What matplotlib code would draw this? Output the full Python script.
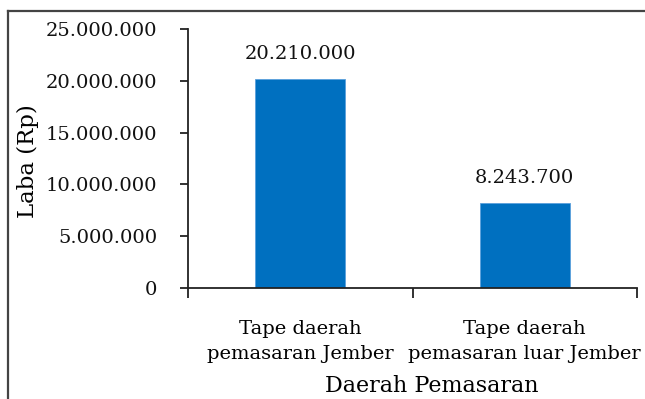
import matplotlib
matplotlib.use("Agg")
import matplotlib.pyplot as plt
from matplotlib.lines import Line2D
from matplotlib.ticker import FuncFormatter, FixedLocator

# Profit per marketing region (Rupiah)
categories = ["Tape daerah\npemasaran Jember", "Tape daerah\npemasaran luar Jember"]
laba = [20210000, 8243700]
yticks = [0, 5000000, 10000000, 15000000, 20000000, 25000000]

plt.rcParams["font.family"] = ["DejaVu Serif"]
FS = 14

def rupiah(v, pos=None):
    return f"{int(round(v)):,}".replace(",", ".")

fig = plt.figure(figsize=(6.45, 3.99), dpi=100)
ax = fig.add_axes([0.2915, 0.2782, 0.6961, 0.6491])

x = list(range(len(categories)))
ax.bar(x, laba, width=0.4, color="#0070C0", edgecolor="#5AA0DC", linewidth=0.6)

for xi, v in zip(x, laba):
    ax.text(xi, v + 1500000, rupiah(v), ha="center", va="bottom", fontsize=FS, color="#111111")

ax.set_xlim(-0.5, len(categories) - 0.5)
ax.set_ylim(0, 25000000)
ax.yaxis.set_major_locator(FixedLocator(yticks))
ax.yaxis.set_major_formatter(FuncFormatter(rupiah))

# category boundaries as major ticks, names on minor ticks
ax.xaxis.set_major_locator(FixedLocator([-0.5, 0.5, 1.5]))
ax.xaxis.set_major_formatter(FuncFormatter(lambda v, p: ""))
ax.set_xticks(x, minor=True)
ax.set_xticklabels(categories, minor=True, fontsize=FS, linespacing=1.5)
ax.tick_params(axis="x", which="minor", length=0, pad=23)
ax.tick_params(axis="x", which="major", direction="out", length=7, width=1.3, color="#222222")
ax.tick_params(axis="y", direction="out", length=6, width=1.3, color="#222222",
               pad=16, labelsize=FS, labelcolor="#111111")

for s in ("top", "right"):
    ax.spines[s].set_visible(False)
for s in ("left", "bottom"):
    ax.spines[s].set_linewidth(1.3)
    ax.spines[s].set_color("#222222")

ax.set_xlabel("Daerah Pemasaran", fontsize=16, va="baseline")
ax.xaxis.set_label_coords(0.543, -0.402)
ax.set_ylabel("Laba (Rp)", fontsize=16.5, va="center")
ax.yaxis.set_label_coords(-0.356, 0.488)

# outer frame around the chart area
fx0 = 8 / 645
fy1 = 1 - 11 / 399
fig.add_artist(Line2D([fx0, fx0], [-0.05, fy1], transform=fig.transFigure, color="#444444", lw=1.6))
fig.add_artist(Line2D([fx0, 1.05], [fy1, fy1], transform=fig.transFigure, color="#444444", lw=1.6))

fig.savefig("out.png", dpi=100)
